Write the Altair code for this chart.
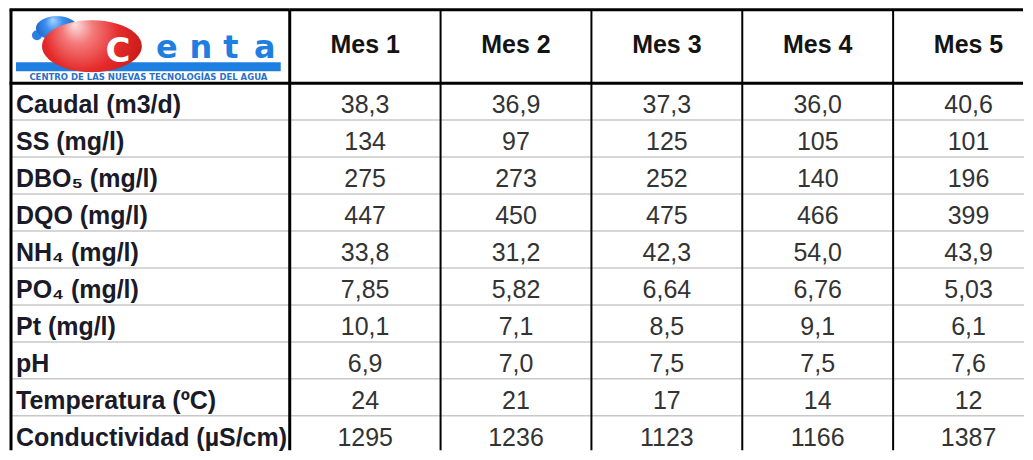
import altair as alt
import pandas as pd
import numpy as np

# ---------------- data ----------------
months = ["Mes 1", "Mes 2", "Mes 3", "Mes 4", "Mes 5"]
params = ["Caudal (m3/d)", "SS (mg/l)", "DBO\u2085 (mg/l)", "DQO (mg/l)", "NH\u2084 (mg/l)",
          "PO\u2084 (mg/l)", "Pt (mg/l)", "pH", "Temperatura (\u00baC)", "Conductividad (\u00b5S/cm)"]
mes1 = ["38,3", "134", "275", "447", "33,8", "7,85", "10,1", "6,9", "24", "1295"]
mes2 = ["36,9", "97", "273", "450", "31,2", "5,82", "7,1", "7,0", "21", "1236"]
mes3 = ["37,3", "125", "252", "475", "42,3", "6,64", "8,5", "7,5", "17", "1123"]
mes4 = ["36,0", "105", "140", "466", "54,0", "6,76", "9,1", "7,5", "14", "1166"]
mes5 = ["40,6", "101", "196", "399", "43,9", "5,03", "6,1", "7,6", "12", "1387"]
logo_letters = ["e", "n", "t", "a"]
logo_caption = "CENTRO DE LAS NUEVAS TECNOLOG\u00cdAS DEL AGUA"

# ---------------- layout / style ----------------
FONT = "Liberation Sans"
LEFT_W = 281          # first column
RIGHT_W = 736         # visible part of the month columns (table is cut at the right edge)
BAND_SPAN = 755       # 5 month columns of 151 px
HEAD_H, BODY_H = 75, 369
ROW_SPAN = 370        # 10 rows of 37 px
BLUE = "#1e7fe0"

cols = [mes1, mes2, mes3, mes4, mes5]
cells = pd.DataFrame([{"param": p, "month": m, "value": v}
                      for m, col in zip(months, cols) for p, v in zip(params, col)])
month_df = pd.DataFrame({"month": months})
param_df = pd.DataFrame({"param": params})
one = pd.DataFrame({"k": [0]})

xband = alt.Scale(domain=months, range=[0, BAND_SPAN], paddingInner=0, paddingOuter=0)
yband = alt.Scale(domain=params, range=[0, ROW_SPAN], paddingInner=0, paddingOuter=0)


def vlines(y0, y1):
    return alt.Chart(month_df).mark_rule(color="black").encode(
        x=alt.X("month:N", scale=xband, axis=None, bandPosition=0),
        y=alt.value(y0), y2=alt.value(y1),
        strokeWidth=alt.condition(alt.datum.month == months[0], alt.value(3), alt.value(2)),
    )


def hrule(x0, x1, y, width=3, color="black"):
    return alt.Chart(one).mark_rule(color=color, strokeWidth=width).encode(
        x=alt.value(x0), x2=alt.value(x1), y=alt.value(y))


# ---------------- header (months) ----------------
hdr_text = alt.Chart(month_df).mark_text(
    font=FONT, fontSize=25, fontWeight="bold", color="#141414", baseline="alphabetic"
).encode(x=alt.X("month:N", scale=xband, axis=None), y=alt.value(45), text="month:N")
header = alt.layer(vlines(1.5, HEAD_H), hrule(0, RIGHT_W - 2, 1.5), hdr_text).properties(
    width=RIGHT_W, height=HEAD_H)

# ---------------- values ----------------
val_h = alt.Chart(param_df.iloc[1:]).mark_rule(color="#c8c8c8", strokeWidth=1.5).encode(
    y=alt.Y("param:N", scale=yband, axis=None, bandPosition=0), x=alt.value(0), x2=alt.value(RIGHT_W - 1))
val_text = alt.Chart(cells).mark_text(
    font=FONT, fontSize=25, color="#333333", baseline="alphabetic", dy=11.5
).encode(x=alt.X("month:N", scale=xband, axis=None),
         y=alt.Y("param:N", scale=yband, axis=None), text="value:N")
values = alt.layer(val_h, vlines(0, BODY_H - 1.5), hrule(0, RIGHT_W - 2, 0), val_text).properties(
    width=RIGHT_W, height=BODY_H)

# ---------------- labels ----------------
lab_h = alt.Chart(param_df.iloc[1:]).mark_rule(color="#c8c8c8", strokeWidth=1.5).encode(
    y=alt.Y("param:N", scale=yband, axis=None, bandPosition=0), x=alt.value(2), x2=alt.value(LEFT_W))
lab_left = alt.Chart(one).mark_rule(color="black", strokeWidth=3).encode(
    x=alt.value(2), y=alt.value(0), y2=alt.value(BODY_H - 1.5))
lab_text = alt.Chart(param_df).mark_text(
    font=FONT, fontSize=25, fontWeight="bold", color="#1a1a28", align="left", baseline="alphabetic",
    dy=11.5
).encode(x=alt.value(7), y=alt.Y("param:N", scale=yband, axis=None), text="param:N")
labels = alt.layer(lab_h, lab_left, hrule(0.5, LEFT_W, 0), lab_text).properties(width=LEFT_W, height=BODY_H)

# ---------------- logo ----------------
lx = alt.Scale(domain=[0, LEFT_W], nice=False, zero=False)
ly = alt.Scale(domain=[0, HEAD_H], nice=False, zero=False, reverse=True)


def ellipse_path(aspect, n=48):
    t = np.linspace(0, 2 * np.pi, n, endpoint=False)
    pts = [f"{aspect * np.cos(a):.4f},{np.sin(a):.4f}" for a in t]
    return "M" + "L".join(pts) + "Z"


bar = alt.Chart(pd.DataFrame({"x": [7], "x2": [272], "y": [54], "y2": [63]})).mark_rect(color=BLUE).encode(
    x=alt.X("x:Q", scale=lx, axis=None), x2="x2:Q",
    y=alt.Y("y:Q", scale=ly, axis=None), y2="y2:Q")

blue_grad = {"gradient": "radial", "x1": 0.4, "y1": 0.3, "r1": 0, "x2": 0.5, "y2": 0.5, "r2": 0.6,
             "stops": [{"offset": 0, "color": "#a8d4ff"}, {"offset": 0.35, "color": "#3d8ff0"},
                       {"offset": 1, "color": "#1258b8"}]}
red_grad = {"gradient": "radial", "x1": 0.33, "y1": 0.28, "r1": 0, "x2": 0.45, "y2": 0.45, "r2": 0.62,
            "stops": [{"offset": 0, "color": "#fde0e0"}, {"offset": 0.25, "color": "#f47a7a"},
                      {"offset": 0.6, "color": "#e52a2a"}, {"offset": 1, "color": "#c01818"}]}

tail = alt.Chart(pd.DataFrame({"x": [28], "y": [27]})).mark_point(
    shape="circle", size=100, filled=True, fill="#2a7fe0", strokeWidth=0, opacity=1).encode(
    x=alt.X("x:Q", scale=lx, axis=None), y=alt.Y("y:Q", scale=ly, axis=None))
blob = alt.Chart(pd.DataFrame({"x": [48], "y": [20]})).mark_point(
    shape=ellipse_path(21 / 12), size=4 * 12 ** 2, filled=True, fill=blue_grad, strokeWidth=0, opacity=1).encode(
    x=alt.X("x:Q", scale=lx, axis=None), y=alt.Y("y:Q", scale=ly, axis=None))
sphere = alt.Chart(pd.DataFrame({"x": [83], "y": [38]})).mark_point(
    shape=ellipse_path(50 / 26), size=4 * 26 ** 2, filled=True, fill=red_grad, strokeWidth=0, opacity=1).encode(
    x=alt.X("x:Q", scale=lx, axis=None), y=alt.Y("y:Q", scale=ly, axis=None))
big_c = alt.Chart(pd.DataFrame({"t": ["C"], "x": [109], "y": [54]})).mark_text(
    font="DejaVu Sans", fontWeight="bold", fontSize=34, color="white", baseline="alphabetic").encode(
    x=alt.X("x:Q", scale=lx, axis=None), y=alt.Y("y:Q", scale=ly, axis=None), text="t:N")
letters = alt.Chart(pd.DataFrame({"t": logo_letters, "x": [158, 192, 222, 256], "y": [50] * 4})).mark_text(
    font="DejaVu Sans", fontWeight="bold", fontSize=32, color=BLUE, baseline="alphabetic").encode(
    x=alt.X("x:Q", scale=lx, axis=None), y=alt.Y("y:Q", scale=ly, axis=None), text="t:N")
caption = alt.Chart(pd.DataFrame({"t": [logo_caption], "x": [139.5], "y": [71.5]})).mark_text(
    font="DejaVu Sans", fontWeight="bold", fontSize=8.5, color="#2a6fc8", baseline="alphabetic").encode(
    x=alt.X("x:Q", scale=lx, axis=None), y=alt.Y("y:Q", scale=ly, axis=None), text="t:N")
logo_left = alt.Chart(one).mark_rule(color="black", strokeWidth=3).encode(
    x=alt.value(2), y=alt.value(1.5), y2=alt.value(HEAD_H))

logo = alt.layer(bar, tail, blob, sphere, big_c, letters, caption, logo_left,
                 hrule(0.5, LEFT_W, 1.5)).properties(width=LEFT_W, height=HEAD_H)

# ---------------- assemble (2 x 2 grid) ----------------
chart = alt.concat(logo, header, labels, values, columns=2, spacing=0, bounds="flush").properties(
    padding=0, background="white").configure_view(stroke=None)

chart.save("out.html", embed_options={"renderer": "svg", "actions": False})
